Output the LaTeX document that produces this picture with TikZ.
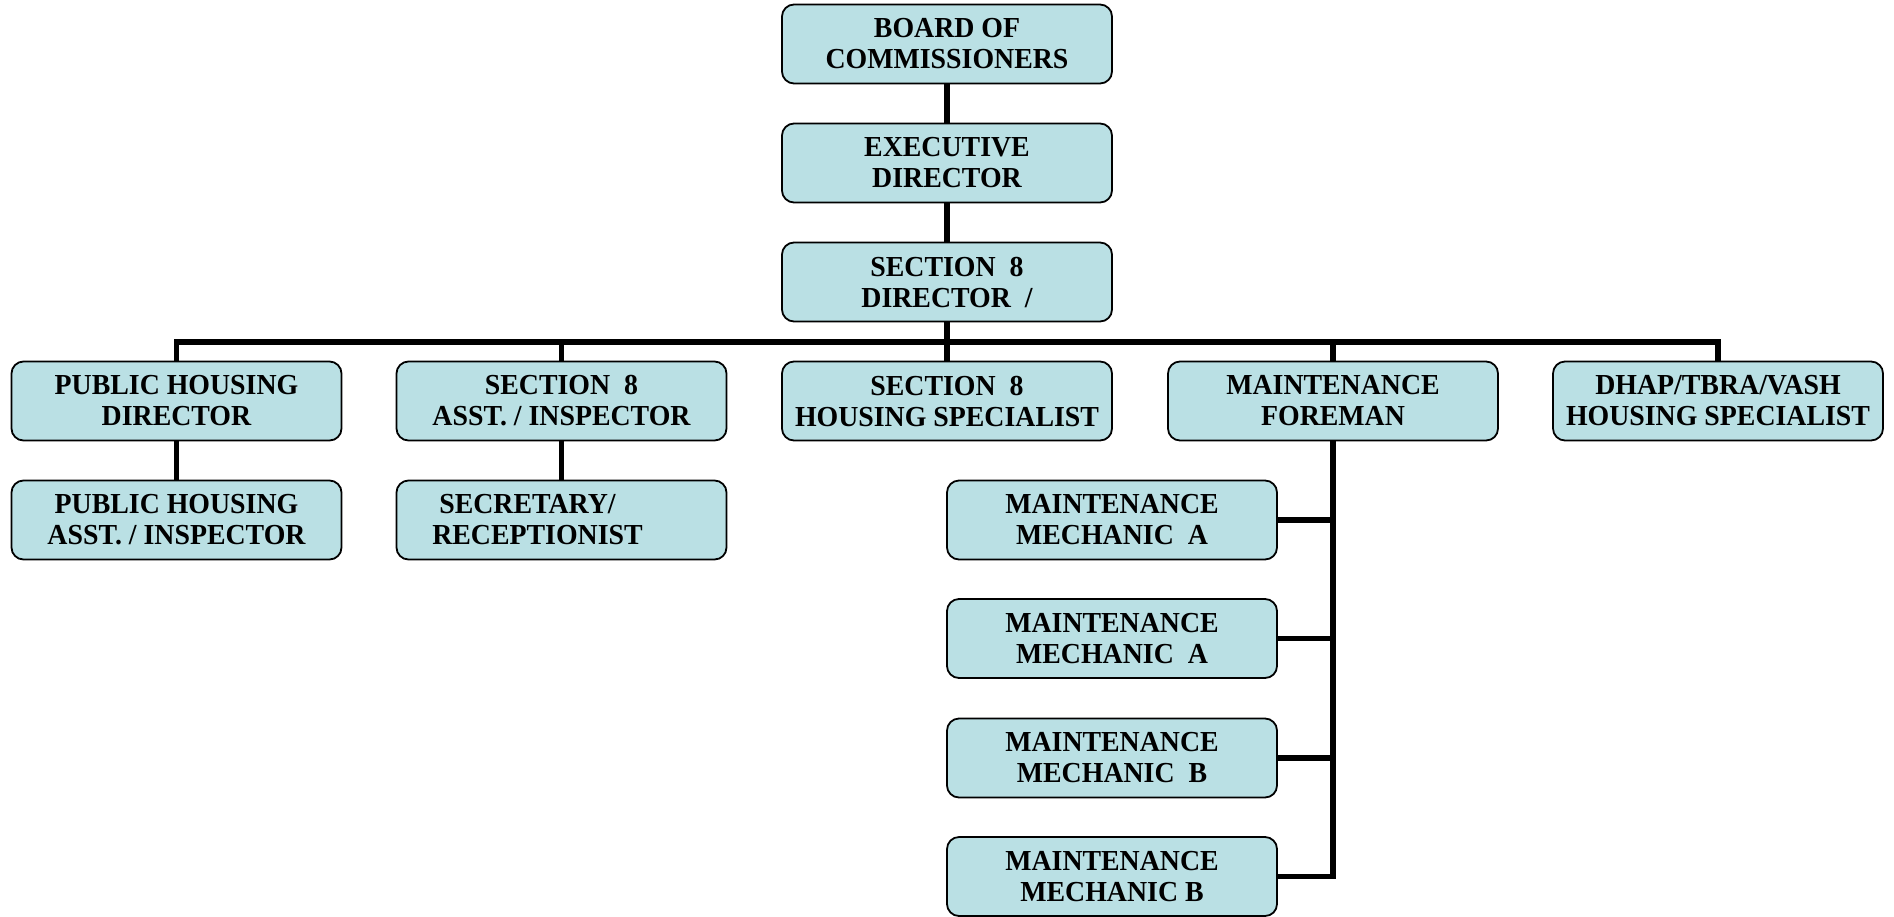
\documentclass[tikz,border=0pt]{standalone}
\usepackage{fontspec}
\setmainfont{Liberation Serif}[FakeStretch=0.96]
\definecolor{postfill}{RGB}{186,224,228}
\begin{document}
\begin{tikzpicture}[x=0.5pt,y=-0.5pt,
post/.style={draw,line width=0.9pt,rounded corners=6pt,fill=postfill,minimum width=165pt,minimum height=39.5pt,inner sep=0pt,align=center,font=\fontsize{14.5}{15.5}\selectfont\bfseries},
wire/.style={line width=2.6pt}]
\useasboundingbox(0,0)rectangle(1894,916);
\node[post](board)at(947,44){BOARD OF\\COMMISSIONERS};
\node[post](exec)at(947,163){EXECUTIVE\\DIRECTOR};
\node[post](sdir)at(947,282){SECTION~~8\\DIRECTOR~~/};
\node[post](phdir)at(176.5,401){PUBLIC HOUSING\\DIRECTOR};
\node[post](sasst)at(561.5,401){SECTION~~8\\ASST. / INSPECTOR};
\node[post](shs)at(947,401){SECTION~~8\\HOUSING SPECIALIST};
\node[post](mfore)at(1333,401){MAINTENANCE\\FOREMAN};
\node[post](dhap)at(1718,401){DHAP/TBRA/VASH\\HOUSING SPECIALIST};
\node[post](phasst)at(176.5,520){PUBLIC HOUSING\\ASST. / INSPECTOR};
\node[post](secr)at(561.5,520){SECRETARY/\hspace*{34pt}\\RECEPTIONIST\hspace*{24pt}};
\node[post](mecha)at(1112,520){MAINTENANCE\\MECHANIC~~A};
\node[post](mechb)at(1112,638.5){MAINTENANCE\\MECHANIC~~A};
\node[post](mechc)at(1112,758){MAINTENANCE\\MECHANIC~~B};
\node[post](mechd)at(1112,876.5){MAINTENANCE\\MECHANIC B};
\coordinate(bus)at(947,342);
\draw[wire](board)--(exec);
\draw[wire](exec)--(sdir);
\draw[wire](sdir)--(bus);
\draw[wire](phdir.north)--(phdir.north|-bus)--(dhap.north|-bus)--(dhap.north);
\foreach \n in {sasst,shs,mfore}
\draw[wire](\n.north)--(\n.north|-bus);
\draw[wire](phdir)--(phasst);
\draw[wire](sasst)--(secr);
\draw[wire](mfore.south)|-(mechd.east);
\foreach \n in {mecha,mechb,mechc}
\draw[wire](\n.east)--(\n.east-|mfore.south);
\end{tikzpicture}
\end{document}
